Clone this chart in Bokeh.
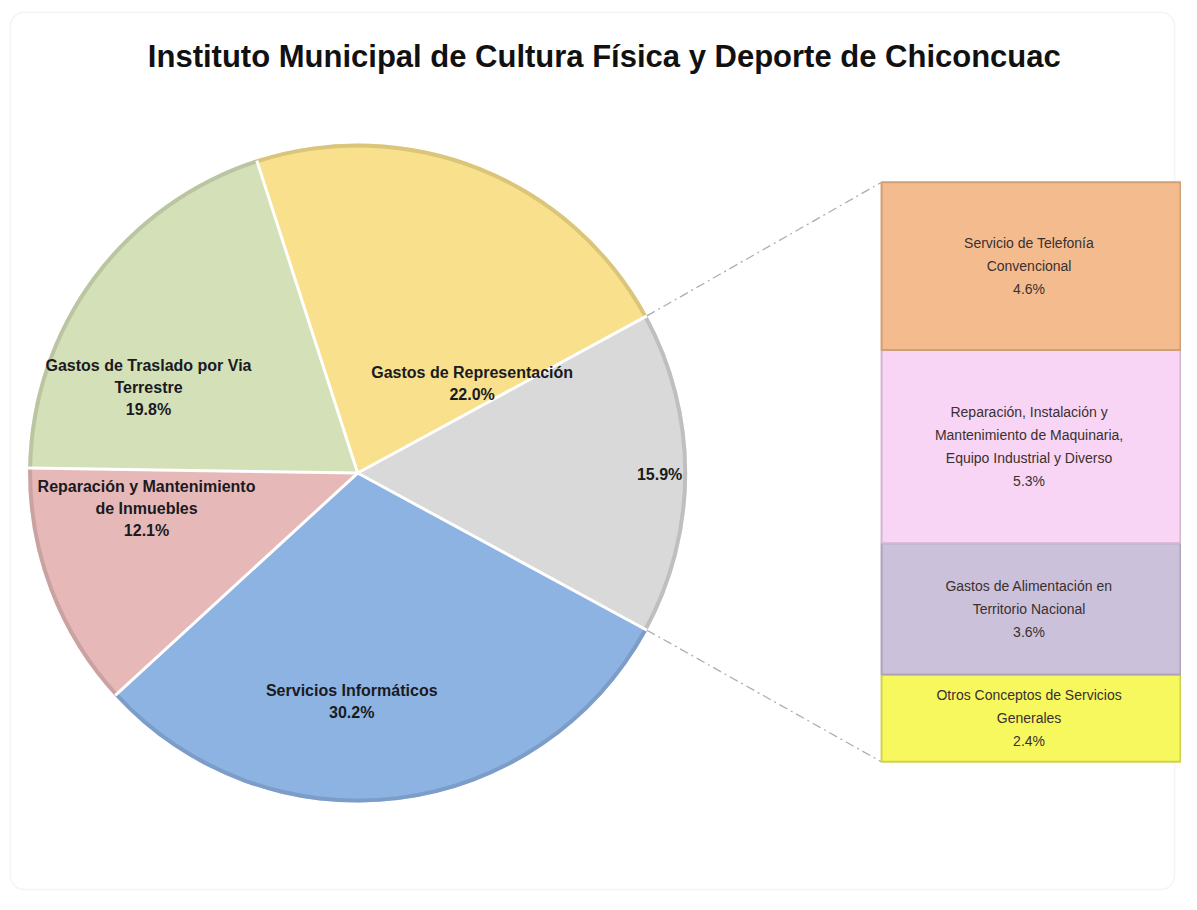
import numpy as np
from bokeh.plotting import figure
from bokeh.models import Range1d, ColumnDataSource, BoxAnnotation
from bokeh.core.properties import value
from bokeh.embed import file_html
from bokeh.resources import INLINE

# ---------------- data ----------------
title_text = "Instituto Municipal de Cultura Física y Deporte de Chiconcuac"

# main pie, clockwise order starting right after the "other" slice (last)
pie_names = ["Servicios Informáticos",
             "Reparación y Mantenimiento\nde Inmuebles",
             "Gastos de Traslado por Via\nTerrestre",
             "Gastos de Representación",
             ""]
pie_values = [30.2, 12.1, 19.8, 22.0, 15.9]
pie_colors = ["#8DB3E2", "#E6B9B8", "#D4E0B8", "#F8E08C", "#D9D9D9"]

# breakdown bar of the "other" slice, bottom to top
bar_names = ["Otros Conceptos de Servicios\nGenerales",
             "Gastos de Alimentación en\nTerritorio Nacional",
             "Reparación, Instalación y\nMantenimiento de Maquinaria,\nEquipo Industrial y Diverso",
             "Servicio de Telefonía\nConvencional"]
bar_values = [2.4, 3.6, 5.3, 4.6]
bar_colors = ["#F7F75E", "#CCC1DA", "#F8D5F4", "#F4BC8E"]

# ---------------- layout ----------------
W, H = 1181, 894
RW, RH = 1197, 910          # reference coordinate frame


def Y(img_y):
    return RH - img_y


CX, CY, R = 362, Y(481), 334
BAR_X0, BAR_X1 = 893, 1196
BAR_Y0, BAR_Y1 = Y(775), Y(185)
# label offsets (pixels from pie centre) for the pie labels
pie_label_dx = [-6, -214, -212, 116, 306]
pie_label_dy = [-233, -36, 87, 91, -1]


def darker(hexcol, f=0.78):
    h = hexcol.lstrip("#")
    r, g, b = (int(h[i:i + 2], 16) for i in (0, 2, 4))
    return "#%02X%02X%02X" % (int(r * f), int(g * f), int(b * f))


p = figure(width=W, height=H, output_backend="svg", toolbar_location=None,
           x_range=Range1d(0, RW), y_range=Range1d(0, RH),
           min_border=0, match_aspect=False)
p.axis.visible = False
p.grid.visible = False
p.background_fill_color = "white"
p.border_fill_color = "white"
p.outline_line_color = None

p.add_layout(BoxAnnotation(left=10, right=1190, bottom=Y(905), top=Y(12),
                           fill_alpha=0, line_color="#D9D9D9", line_width=1.5,
                           border_radius=14, level="underlay"))

# ---------------- pie ----------------
vals = np.array(pie_values)
total = vals.sum()
start = -np.deg2rad(vals[-1] / total * 360 / 2)
cum = np.concatenate([[0], np.cumsum(vals)])
ang_after = start - cum[1:] / total * 2 * np.pi
ang_before = start - cum[:-1] / total * 2 * np.pi

src = ColumnDataSource(dict(sa=ang_after, ea=ang_before, color=pie_colors,
                            rim=[darker(c) for c in pie_colors]))
p.wedge(x=CX, y=CY, radius=R, start_angle="sa", end_angle="ea",
        fill_color="color", line_color=None, source=src)
p.annular_wedge(x=CX, y=CY, inner_radius=R - 4, outer_radius=R,
                start_angle="sa", end_angle="ea", fill_color="rim",
                fill_alpha=0.55, line_color=None, source=src)
bounds = ang_before
p.segment(x0=CX, y0=CY, x1=CX + R * np.cos(bounds), y1=CY + R * np.sin(bounds),
          line_color="white", line_width=3)

lab_txt = [(n + "\n" if n else "") + f"{v:.1f}%" for n, v in zip(pie_names, pie_values)]
p.text(x=[CX + d for d in pie_label_dx], y=[CY + d for d in pie_label_dy], text=lab_txt,
       text_align="center", text_baseline="middle", text_font=value("Liberation Sans"),
       text_font_style="bold", text_font_size="16px", text_color="#1A1A22",
       text_line_height=1.3)

# ---------------- connectors ----------------
a_top, a_bot = -start, start
p.segment(x0=[CX + R * np.cos(a_top), CX + R * np.cos(a_bot)],
          y0=[CY + R * np.sin(a_top), CY + R * np.sin(a_bot)],
          x1=[BAR_X0, BAR_X0], y1=[BAR_Y1, BAR_Y0],
          line_color="#A9AEB8", line_width=1.3, line_dash="9 4 2 4")

# ---------------- bar ----------------
btot = sum(bar_values)
scale = (BAR_Y1 - BAR_Y0) / btot
p.extra_y_ranges = {"bar": Range1d((0 - BAR_Y0) / scale, (RH - BAR_Y0) / scale)}
bcum = np.concatenate([[0], np.cumsum(bar_values)])
bsrc = ColumnDataSource(dict(bottom=bcum[:-1], top=bcum[1:], color=bar_colors,
                             edge=[darker(c, 0.85) for c in bar_colors],
                             mid=(bcum[:-1] + bcum[1:]) / 2,
                             txt=[f"{n}\n{v:.1f}%" for n, v in zip(bar_names, bar_values)]))
p.quad(left=BAR_X0, right=BAR_X1, bottom="bottom", top="top", fill_color="color",
       line_color="edge", line_width=2, y_range_name="bar", source=bsrc)
p.text(x=(BAR_X0 + BAR_X1) / 2 - 2, y="mid", text="txt", y_range_name="bar", source=bsrc,
       text_align="center", text_baseline="middle", text_font=value("Liberation Sans"),
       text_font_size="14px", text_color="#3A3030", text_line_height=1.45)

# ---------------- title ----------------
p.text(x=[612], y=[Y(57)], text=[title_text], text_align="center", text_baseline="middle",
       text_font=value("Liberation Sans"), text_font_style="bold", text_font_size="31px",
       text_color="#111111")

open("out.html", "w").write(file_html(p, INLINE))
